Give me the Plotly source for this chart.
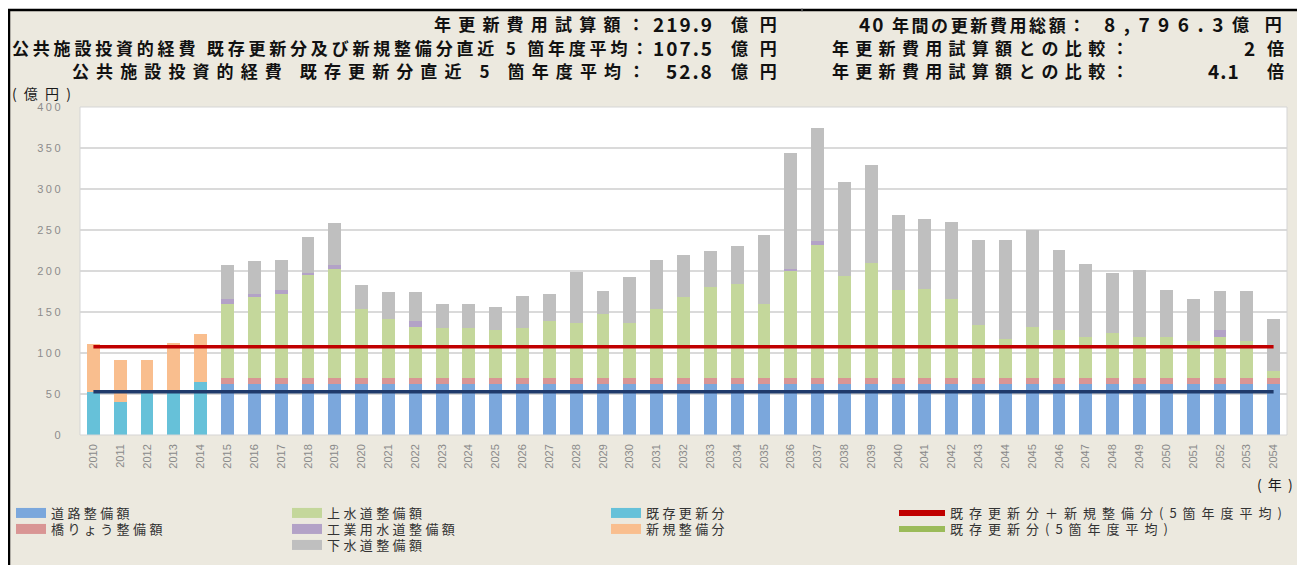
import plotly.graph_objects as go

# ---------------- data ----------------
early_years = ["2010", "2011", "2012", "2013", "2014"]
later_years = ["2015", "2016", "2017", "2018", "2019", "2020", "2021", "2022", "2023", "2024",
               "2025", "2026", "2027", "2028", "2029", "2030", "2031", "2032", "2033", "2034",
               "2035", "2036", "2037", "2038", "2039", "2040", "2041", "2042", "2043", "2044",
               "2045", "2046", "2047", "2048", "2049", "2050", "2051", "2052", "2053", "2054"]
all_years = early_years + later_years

existing_renewal = [53, 40, 53, 53, 65]
new_development = [58, 51, 38, 59, 58]

roads = [62, 62, 62, 62, 62, 62, 62, 62, 62, 62, 62, 62, 62, 62, 62, 62, 62, 62, 62, 62,
         62, 62, 62, 62, 62, 62, 62, 62, 62, 62, 62, 62, 62, 62, 62, 62, 62, 62, 62, 62]
bridges = [8, 8, 8, 8, 8, 8, 8, 8, 8, 8, 8, 8, 8, 8, 8, 8, 8, 8, 8, 8,
           8, 8, 8, 8, 8, 8, 8, 8, 8, 8, 8, 8, 8, 8, 8, 8, 8, 8, 8, 8]
water = [90, 98, 102, 125, 133, 84, 71, 62, 60, 60, 58, 61, 69, 66, 78, 66, 84, 98, 111, 114,
         90, 131, 162, 124, 140, 107, 108, 96, 64, 47, 62, 58, 50, 54, 50, 50, 45, 50, 45, 8]
industrial = [6, 4, 5, 3, 4, 0, 0, 7, 0, 0, 0, 0, 0, 0, 0, 0, 0, 0, 0, 0,
              0, 2, 4, 0, 0, 0, 0, 0, 0, 0, 0, 0, 0, 0, 0, 0, 0, 8, 0, 0]
sewer = [41, 40, 37, 44, 51, 29, 33, 36, 30, 30, 28, 39, 33, 63, 28, 57, 59, 51, 43, 46,
         84, 141, 138, 115, 119, 91, 86, 94, 104, 121, 118, 98, 89, 74, 81, 57, 51, 48, 61, 63]

avg_total_5yr = 107.5      # 既存更新分+新規整備分(5箇年度平均)
avg_existing_5yr = 52.8    # 既存更新分(5箇年度平均)

y_tickvals = [0, 50, 100, 150, 200, 250, 300, 350, 400]
y_ticktext = ["0", "50", "100", "150", "200", "250", "300", "350", "400"]

# ---------------- geometry helpers (page pixel coordinates) ----------------
OFF = 8                      # page body margin
W, H = 1305 - 2 * OFF, 565 - OFF
PL, PR, PT, PB = 80, 1287, 107, 435


def px(x):
    return (x - PL) / (PR - PL)


def py(y):
    return (PB - y) / (PB - PT)


BEIGE = "#ECE9DF"
C_ROAD = "#7BA7DC"
C_BRIDGE = "#D99594"
C_WATER = "#C4D79B"
C_IND = "#B3A2C7"
C_SEWER = "#BFBFBF"
C_EXIST = "#66C1D9"
C_NEW = "#F9BE8E"
C_RED = "#C00000"
C_NAVY = "#1F3A6B"
C_GREENLINE = "#9BBB59"

fig = go.Figure()

bar_specs = [
    (later_years, roads, C_ROAD, "道路整備額"),
    (later_years, bridges, C_BRIDGE, "橋りょう整備額"),
    (later_years, water, C_WATER, "上水道整備額"),
    (later_years, industrial, C_IND, "工業用水道整備額"),
    (later_years, sewer, C_SEWER, "下水道整備額"),
    (early_years, existing_renewal, C_EXIST, "既存更新分"),
    (early_years, new_development, C_NEW, "新規整備分"),
]
for xs, ys, col, name in bar_specs:
    fig.add_trace(go.Bar(x=xs, y=ys, name=name, marker=dict(color=col, line=dict(width=0)),
                         showlegend=False))

fig.add_trace(go.Scatter(x=[all_years[0], all_years[-1]], y=[avg_total_5yr, avg_total_5yr],
                         mode="lines", line=dict(color=C_RED, width=3.5), showlegend=False))
fig.add_trace(go.Scatter(x=[all_years[0], all_years[-1]], y=[avg_existing_5yr, avg_existing_5yr],
                         mode="lines", line=dict(color=C_NAVY, width=3.5), showlegend=False))


def sp(text, ls, size=None):
    style = f"letter-spacing:{ls}px"
    if size:
        style += f";font-size:{size}px"
    return f'<span style="{style}">{text}</span>'


# legend entries: one legend per row so rows can sit 16px apart
legend_items = [
    # (legend id, swatch-left x, row y, colour, name, line width, itemwidth)
    ("legend", 17, 513, C_ROAD, sp("道路整備額", 3.4), 11, 30),
    ("legend2", 17, 529, C_BRIDGE, sp("橋りょう整備額", 3.4), 11, 30),
    ("legend3", 293, 513, C_WATER, sp("上水道整備額", 3.4), 11, 30),
    ("legend4", 293, 529, C_IND, sp("工業用水道整備額", 3.4), 11, 30),
    ("legend5", 293, 545, C_SEWER, sp("下水道整備額", 3.4), 11, 30),
    ("legend6", 612, 513, C_EXIST, sp("既存更新分", 3.4), 11, 30),
    ("legend7", 612, 529, C_NEW, sp("新規整備分", 3.4), 11, 30),
    ("legend8", 900, 513, C_RED, sp("既存更新分＋新規整備分(5箇年度平均)", 6), 6, 46),
    ("legend9", 900, 529, C_GREENLINE, sp("既存更新分(5箇年度平均)", 6), 6, 46),
]
legend_font = dict(family="Noto Sans CJK JP", size=13, color="#333333")
legend_layout = {}
for lg, lx, ly, col, name, wd, iw in legend_items:
    fig.add_trace(go.Scatter(x=[None], y=[None], mode="lines", name=name,
                             line=dict(color=col, width=wd), legend=lg, showlegend=True))
    legend_layout[lg] = dict(x=px(lx - 6), y=py(ly), xanchor="left", yanchor="middle",
                             bgcolor="rgba(0,0,0,0)", borderwidth=0, font=legend_font,
                             itemwidth=iw)

fig.update_layout(
    width=W, height=H, autosize=False,
    margin=dict(l=PL - OFF, r=(W + OFF) - PR, t=PT - OFF, b=(H + OFF) - PB, pad=0, autoexpand=False),
    paper_bgcolor=BEIGE, plot_bgcolor="white",
    barmode="stack", bargap=0.52,
    font=dict(family="Noto Sans CJK JP", color="#222"),
    xaxis=dict(type="category", categoryorder="array", categoryarray=all_years, automargin=False,
               tickangle=-90, tickfont=dict(family="Liberation Sans", size=11, color="#8a8a8a"),
               showgrid=False, showline=False, zeroline=False, ticks="", ticklabelstandoff=6),
    yaxis=dict(range=[0, 400], tickvals=y_tickvals,
               ticktext=[sp(t, 2.5) for t in y_ticktext], automargin=False,
               tickfont=dict(family="Liberation Sans", size=11, color="#8c8c8c"),
               showgrid=True, gridcolor="#DADADA", gridwidth=1.5, zeroline=False, showline=False,
               ticks="", ticklabelstandoff=16),
    **legend_layout,
)

# frame / background decoration
shapes = [
    dict(type="rect", xref="paper", yref="paper", x0=px(0), x1=px(1320), y0=py(0), y1=py(9),
         fillcolor="white", line=dict(width=0), layer="below"),
    dict(type="line", xref="paper", yref="paper", x0=px(8), x1=px(1320), y0=py(10), y1=py(10),
         line=dict(color="black", width=2.5)),
    dict(type="line", xref="paper", yref="paper", x0=px(9), x1=px(9), y0=py(9), y1=py(580),
         line=dict(color="black", width=2.5)),
    dict(type="line", xref="paper", yref="paper", x0=px(802), x1=px(802), y0=py(8), y1=py(12),
         line=dict(color="#888", width=1)),
    dict(type="rect", xref="paper", yref="paper", x0=0, x1=1, y0=0, y1=1,
         line=dict(color="#D5D5D5", width=1), fillcolor="rgba(0,0,0,0)"),
]
fig.update_layout(shapes=shapes)

NUM = 19   # header digit size
hdr = dict(family="Noto Sans CJK JP", size=17, color="#111111")
annots = [
    # left block labels (right-aligned at colon)
    (654, 23, "right", sp("<b>年更新費用試算額：</b>", 7.2)),
    (654, 47, "right", sp("<b>公共施設投資的経費 既存更新分及び新規整備分直近 5 箇年度平均：</b>", 3.8)),
    (654, 71, "right", sp("<b>公共施設投資的経費 既存更新分直近 5 箇年度平均：</b>", 7.1)),
    # left block values
    (716, 23, "right", sp("<b>219.9</b>", 2, NUM)),
    (716, 47, "right", sp("<b>107.5</b>", 2, NUM)),
    (716, 71, "right", sp("<b>52.8</b>", 2, NUM)),
    (783, 23, "right", sp("<b>億 円</b>", 4)),
    (783, 47, "right", sp("<b>億 円</b>", 4)),
    (783, 71, "right", sp("<b>億 円</b>", 4)),
    # right block
    (1090, 23, "right", sp("<b>" + sp("40", 2, NUM) + " 年間の更新費用総額：</b>", 2.6)),
    (1234, 23, "right", sp("<b>8,796.3</b>", 8.5, NUM)),
    (1290, 23, "right", sp("<b>億 円</b>", 6)),
    (830, 47, "left", sp("<b>年更新費用試算額との比較：</b>", 6.3)),
    (1257, 47, "right", sp("<b>2</b>", 0, NUM)),
    (1286, 47, "right", "<b>倍</b>"),
    (830, 71, "left", sp("<b>年更新費用試算額との比較：</b>", 6.3)),
    (1242, 71, "right", sp("<b>4.1</b>", 1, NUM)),
    (1286, 71, "right", "<b>倍</b>"),
]
for x, y, anc, txt in annots:
    fig.add_annotation(x=px(x), y=py(y), xref="paper", yref="paper", text=txt, showarrow=False,
                       xanchor=anc, yanchor="middle", font=hdr)

fig.add_annotation(x=px(10), y=py(93), xref="paper", yref="paper", text=sp("( 億 円 )", 2),
                   showarrow=False, xanchor="left", yanchor="middle",
                   font=dict(family="Noto Sans CJK JP", size=14, color="#1a1a1a"))
fig.add_annotation(x=px(1296), y=py(484), xref="paper", yref="paper", text=sp("( 年 )", 1.5),
                   showarrow=False, xanchor="right", yanchor="middle",
                   font=dict(family="Noto Sans CJK JP", size=14, color="#1a1a1a"))

fig.write_html("out.html")
